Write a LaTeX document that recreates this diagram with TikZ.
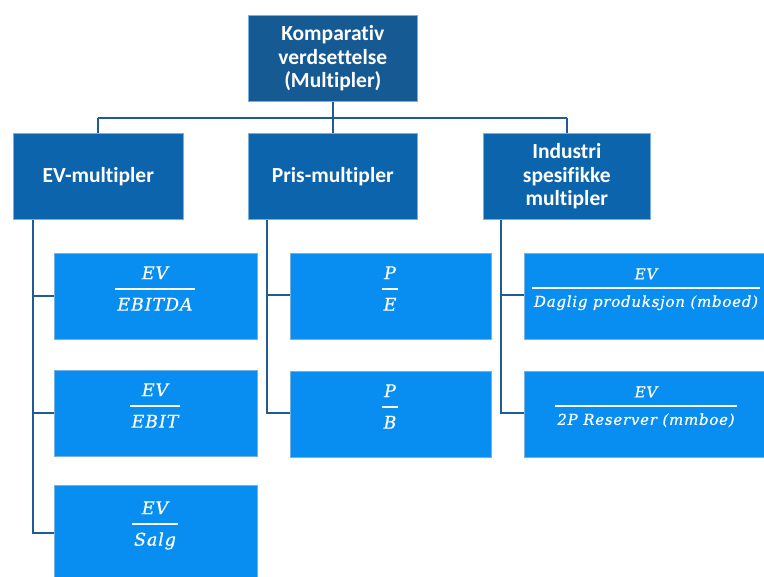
\documentclass[tikz,border=0pt]{standalone}
\usepackage{fontspec}
\setmainfont[Ligatures=NoCommon]{Carlito}
\newfontfamily\fracfont[LetterSpace=5, FakeBold=0.6]{DejaVu Serif}
\definecolor{topc}{RGB}{22,90,148}
\definecolor{midc}{RGB}{12,100,172}
\definecolor{lowc}{RGB}{8,142,240}
\definecolor{linec}{RGB}{30,92,150}
\definecolor{edgec}{RGB}{120,175,225}
\newcommand\myfr[2]{{\fracfont\itshape\setlength\arrayrulewidth{1.8pt}\renewcommand\arraystretch{1.35}\begin{tabular}{@{\hspace{2pt}}c@{\hspace{2pt}}}#1\\\hline #2\end{tabular}}}
\tikzset{
  box/.style={rectangle, draw=edgec, line width=0.6pt, inner sep=0pt, anchor=north west, text=white, align=center},
  lvltop/.style={box, fill=topc, minimum width=169pt, minimum height=86pt, font=\bfseries\fontsize{21.5}{23.5}\selectfont},
  lvlmid/.style={box, fill=midc, minimum height=86pt, font=\bfseries\fontsize{21.5}{23.5}\selectfont},
  lvllow/.style={box, fill=lowc, minimum height=86pt},
  fracbig/.style={inner sep=0pt, text=white, font=\fontsize{17.5}{22}\selectfont},
  fracsmall/.style={inner sep=0pt, text=white, font=\fontsize{15}{19}\selectfont},
  conn/.style={draw=linec, line width=2pt}
}
\begin{document}
\begin{tikzpicture}[x=1pt,y=-1pt]
\clip (0,0) rectangle (764,577);
\fill[white] (0,0) rectangle (764,577);
% connectors first
\coordinate (busL) at (98,118);
\coordinate (busM) at (333,118);
\coordinate (busR) at (567,118);
\draw[conn] (333,101) -- (busM);
\draw[conn] (busL) -- (busR);
\draw[conn] (busL) -- (98,133);
\draw[conn] (busM) -- (333,133);
\draw[conn] (busR) -- (567,133);
% columns
\coordinate (cA) at (33,219);
\coordinate (cB) at (267,219);
\coordinate (cC) at (501,219);
\draw[conn] (cA) |- (54,533);
\draw[conn] (33,296) -- (54,296);
\draw[conn] (33,413) -- (54,413);
\draw[conn] (cB) |- (290,413);
\draw[conn] (267,295) -- (290,295);
\draw[conn] (cC) |- (524,413);
\draw[conn] (501,295) -- (524,295);
% boxes
\node[lvltop] (top) at (248,15) {Komparativ\\verdsettelse\\(Multipler)};
\node[lvlmid, minimum width=170pt] (ev) at (13,133) {EV-multipler};
\node[lvlmid, minimum width=169pt] (pris) at (248,133) {Pris-multipler};
\node[lvlmid, minimum width=167pt] (ind) at (483,133) {Industri\\spesifikke\\multipler};
\node[lvllow, minimum width=203pt] (b1) at (54,253) {};
\node[lvllow, minimum width=203pt] (b2) at (54,370) {};
\node[lvllow, minimum width=203pt, minimum height=100pt] (b3) at (54,485) {};
\node[lvllow, minimum width=201pt] (p1) at (290,253) {};
\node[lvllow, minimum width=201pt] (p2) at (290,371) {};
\node[lvllow, minimum width=250pt] (i1) at (524,253) {};
\node[lvllow, minimum width=250pt] (i2) at (524,371) {};
% fractions
\node[fracbig] (f1) at (155,289) {\myfr{EV}{EBITDA}};
\node[fracbig] (f2) at (155,406) {\myfr{EV}{EBIT}};
\node[fracbig] (f3) at (155,524) {\myfr{EV}{Salg}};
\node[fracbig] (f4) at (390,289) {\myfr{P}{E}};
\node[fracbig] (f5) at (390,407) {\myfr{P}{B}};
\node[fracsmall] (f6) at (646,288) {\myfr{EV}{Daglig produksjon (mboed)}};
\node[fracsmall] (f7) at (646,406) {\myfr{EV}{2P Reserver (mmboe)}};
\end{tikzpicture}
\end{document}
